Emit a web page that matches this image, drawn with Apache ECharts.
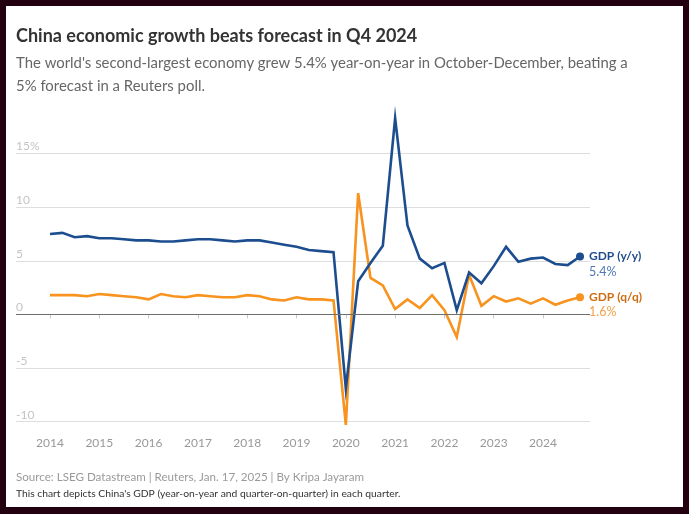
<!DOCTYPE html>
<html>
<head>
<meta charset="utf-8">
<title>China economic growth beats forecast in Q4 2024</title>
<script src="https://cdn.jsdelivr.net/npm/echarts@6/dist/echarts.min.js"></script>
<style>
	html, body { margin: 0; padding: 0; background: #23000f; width: 689px; height: 514px; overflow: hidden; }
	.chart { position: absolute; left: 6px; top: 6px; width: 677px; height: 501px; background: #fff; }
</style>
</head>
<body>
<div class="chart" id="chart"></div>
<script>
	// quarterly GDP growth, 2014 Q1 .. 2024 Q4 (%)
	const years = ['2014', '2015', '2016', '2017', '2018', '2019', '2020', '2021', '2022', '2023', '2024'];

	const gdpYoy = [
		7.5, 7.6, 7.2, 7.3,
		7.1, 7.1, 7.0, 6.9,
		6.9, 6.8, 6.8, 6.9,
		7.0, 7.0, 6.9, 6.8,
		6.9, 6.9, 6.7, 6.5,
		6.3, 6.0, 5.9, 5.8,
		-6.9, 3.1, 4.8, 6.4,
		18.3, 8.3, 5.2, 4.3,
		4.8, 0.4, 3.9, 2.9,
		4.5, 6.3, 4.9, 5.2,
		5.3, 4.7, 4.6, 5.4
	];

	const gdpQoq = [
		1.8, 1.8, 1.8, 1.7,
		1.9, 1.8, 1.7, 1.6,
		1.4, 1.9, 1.7, 1.6,
		1.8, 1.7, 1.6, 1.6,
		1.8, 1.7, 1.4, 1.3,
		1.6, 1.4, 1.4, 1.3,
		-10.3, 11.3, 3.4, 2.7,
		0.5, 1.4, 0.6, 1.8,
		0.4, -2.1, 3.7, 0.8,
		1.7, 1.2, 1.5, 1.0,
		1.5, 0.9, 1.3, 1.6
	];

	const font = 'Lato';

	const drawChart = function() {
		const el = document.getElementById('chart');
		const chart = echarts.init(el);

		const yearTicks = years.map((y, i) => i * 4);

		// only the last point gets a dot
		const toPoints = function(arr, color) {
			return arr.map(function(v, i) {
				if (i === arr.length - 1) {
					return { value: [i, v], symbol: 'circle', symbolSize: 8, itemStyle: { color: color } };
				}
				return [i, v];
			});
		};

		const lineSeries = function(name, arr, color, labelColor, valueColor) {
			return {
				name: name,
				type: 'line',
				data: toPoints(arr, color),
				symbol: 'none',
				showSymbol: true,
				clip: false,
				lineStyle: { color: color, width: 2.6, join: 'miter' },
				itemStyle: { color: color },
				endLabel: {
					show: true,
					distance: 9,
					offset: [0, 7.5],
					formatter: '{a|' + name + '}\n{b|' + arr[arr.length - 1].toFixed(1) + '%}',
					rich: {
						a: { fontFamily: font, fontSize: 12, fontWeight: 'bold', color: labelColor, lineHeight: 15 },
						b: { fontFamily: font, fontSize: 12.5, color: valueColor, lineHeight: 15 }
					}
				}
			};
		};

		const yoy = lineSeries('GDP (y/y)', gdpYoy, '#1c4d8f', '#1f4c8c', '#4d78b6');
		yoy.markLine = {
			silent: true,
			symbol: ['none', 'none'],
			label: { show: false },
			lineStyle: { color: '#6e6e6e', width: 1, type: 'solid' },
			data: [{ yAxis: 0 }]
		};
		yoy.z = 3;
		const qoq = lineSeries('GDP (q/q)', gdpQoq, '#f7931e', '#cd6c12', '#f2a24c');

		const option = {
			animation: false,
			title: [
				{
					text: 'China economic growth beats forecast in Q4 2024',
					left: 10, top: 21, padding: 0,
					textStyle: { fontFamily: font, fontSize: 18, fontWeight: 'bold', color: '#333', lineHeight: 18 }
				},
				{
					text: 'The world\'s second-largest economy grew 5.4% year-on-year in October-December, beating a\n5% forecast in a Reuters poll.',
					left: 10, top: 46, padding: 0,
					textStyle: { fontFamily: font, fontSize: 14.9, fontWeight: 'normal', color: '#666', lineHeight: 22.5 }
				},
				{
					text: 'Source: LSEG Datastream | Reuters, Jan. 17, 2025 | By Kripa Jayaram',
					left: 10, top: 464, padding: 0,
					textStyle: { fontFamily: font, fontSize: 11.6, fontWeight: 'normal', color: '#9a9a9a', lineHeight: 14 }
				},
				{
					text: 'This chart depicts China\'s GDP (year-on-year and quarter-on-quarter) in each quarter.',
					left: 10, top: 482, padding: 0,
					textStyle: { fontFamily: font, fontSize: 10.3, fontWeight: 'normal', color: '#333', lineHeight: 12 }
				}
			],
			grid: { left: 10, right: 93, top: 147.5, bottom: 85.3, containLabel: false },
			xAxis: {
				type: 'value',
				min: -2.76,
				max: 43.81,
				offset: 6,
				axisLine: { show: false },
				splitLine: { show: false },
				axisTick: { show: true, length: 4, customValues: yearTicks, lineStyle: { color: '#c8c8c8' } },
				axisLabel: {
					customValues: yearTicks,
					margin: 9,
					fontFamily: font, fontSize: 12, color: '#999',
					formatter: v => years[Math.round(v / 4)]
				}
			},
			yAxis: {
				type: 'value',
				min: -10,
				max: 15,
				interval: 5,
				axisLine: { show: false },
				axisTick: { show: false },
				splitLine: { lineStyle: { color: '#dedede', width: 1.2 } },
				axisLabel: {
					inside: true,
					margin: 0,
					verticalAlign: 'bottom',
					padding: [0, 0, 1, 0],
					fontFamily: font, fontSize: 12, color: '#c4c4c4',
					formatter: v => v === 15 ? v + '%' : String(v)
				}
			},
			series: [qoq, yoy]
		};

		chart.setOption(option);
	};

	document.addEventListener('DOMContentLoaded', function() {
		drawChart();
	});
</script>
</body>
</html>
